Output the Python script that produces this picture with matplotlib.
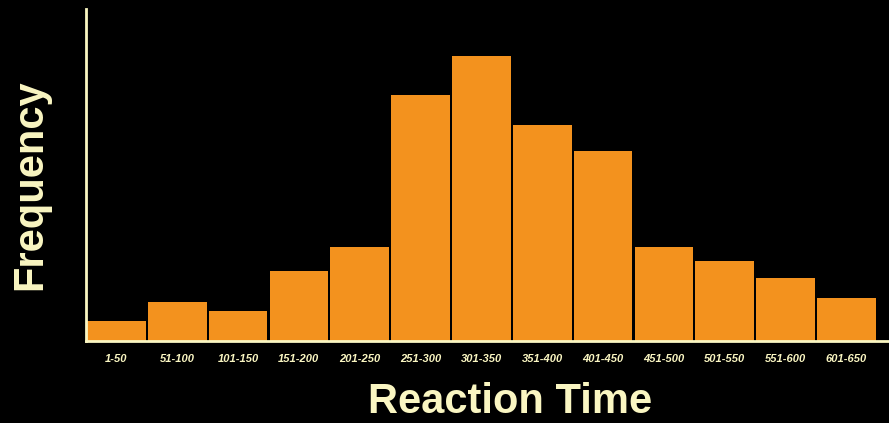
import numpy as np
import matplotlib.pyplot as plt

bins = ['1-50', '51-100', '101-150', '151-200', '201-250', '251-300', '301-350',
        '351-400', '401-450', '451-500', '501-550', '551-600', '601-650']
freq = [20, 39, 30, 70, 94, 245, 284, 215, 189, 94, 80, 63, 43]

cream = '#FAF6C2'
orange = '#F3921E'

fig = plt.figure(figsize=(8.89, 4.23), dpi=100, facecolor='black')
ax = fig.add_axes([86 / 889, (423 - 341) / 423, 803 / 889, 332 / 423])
ax.set_facecolor('black')

x = np.arange(len(bins))
ax.bar(x, freq, width=0.965, color=orange, edgecolor='none')

ax.set_xlim(-0.5, 12.7)
ax.set_ylim(0, 331)
ax.set_xticks(x)
ax.set_xticklabels(bins, fontsize=8, fontstyle='italic', fontweight='bold',
                   color=cream, family='Liberation Sans')
ax.tick_params(axis='x', length=0, pad=9)
ax.set_yticks([])

for s in ['top', 'right']:
    ax.spines[s].set_visible(False)
for s in ['left', 'bottom']:
    ax.spines[s].set_color(cream)
    ax.spines[s].set_linewidth(2)

fig.text(510 / 889, 1 / 423, 'Reaction Time', fontsize=30, fontweight='bold',
         color=cream, family='Liberation Sans', ha='center', va='bottom')
fig.text(30 / 889, 1 - 185 / 423, 'Frequency', fontsize=30, fontweight='bold',
         color=cream, family='Liberation Sans', ha='center', va='center',
         rotation=90)

fig.savefig('out.png', dpi=100, facecolor='black')
